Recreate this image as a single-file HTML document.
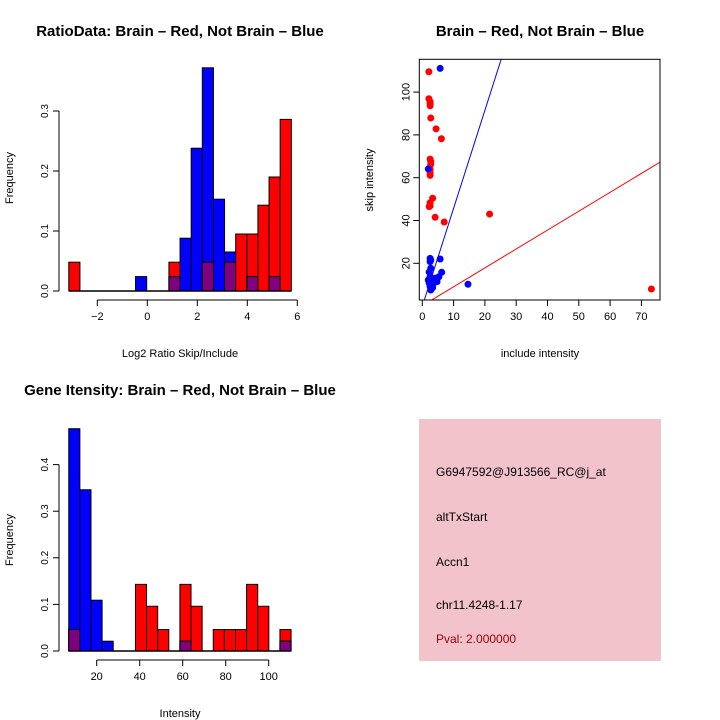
<!DOCTYPE html>
<html><head><meta charset="utf-8"><style>
body{margin:0;background:#fff;}
svg{display:block;font-family:"Liberation Sans",sans-serif;}
</style></head><body>
<svg id="c" width="720" height="720" viewBox="0 0 720 720" xmlns="http://www.w3.org/2000/svg">
<rect width="720" height="720" fill="#fff"/>
<text x="180" y="36" text-anchor="middle" font-size="15" font-weight="bold">RatioData: Brain – Red, Not Brain – Blue</text>
<text x="540" y="36" text-anchor="middle" font-size="15" font-weight="bold">Brain – Red, Not Brain – Blue</text>
<text x="180" y="395" text-anchor="middle" font-size="15" font-weight="bold">Gene Itensity: Brain – Red, Not Brain – Blue</text>
<text x="180" y="357" text-anchor="middle" font-size="11">Log2 Ratio Skip/Include</text>
<text transform="translate(13,178) rotate(-90)" text-anchor="middle" font-size="11">Frequency</text>
<text x="540" y="357" text-anchor="middle" font-size="11">include intensity</text>
<text transform="translate(373,180) rotate(-90)" text-anchor="middle" font-size="11">skip intensity</text>
<text x="180" y="717" text-anchor="middle" font-size="11">Intensity</text>
<text transform="translate(13,540) rotate(-90)" text-anchor="middle" font-size="11">Frequency</text>
<g id="h1"></g>
<g id="sc"></g>
<g id="h2"></g>
<rect x="419" y="419" width="242" height="242" fill="#f3c3cc"/>
<text x="436" y="476" font-size="12">G6947592@J913566_RC@j_at</text>
<text x="436" y="521" font-size="12">altTxStart</text>
<text x="436" y="566" font-size="12">Accn1</text>
<text x="436" y="609" font-size="12">chr11.4248-1.17</text>
<text x="436" y="643" font-size="12" fill="#990000">Pval: 2.000000</text>
</svg>
<script>
// Ratio histogram data
const ratioBinStart = -3.14, ratioBinWidth = 0.445;
const ratioRed  = [0.048,0,0,0,0,0,0,0,0,0.048,0,0,0.048,0,0.048,0.095,0.095,0.143,0.19,0.286];
const ratioBlue = [0,0,0,0,0,0,0.024,0,0,0.024,0.088,0.238,0.372,0.153,0.065,0,0.024,0,0.024,0];
const ratioXTicks = [-2,0,2,4,6];
const ratioYTicks = [0,0.1,0.2,0.3];
// Intensity histogram data
const intBinStart = 7, intBinWidth = 5.17;
const intRed  = [0.046,0,0,0,0,0,0.143,0.096,0.046,0,0.143,0.096,0,0.046,0.046,0.046,0.143,0.096,0,0.046];
const intBlue = [0.477,0.346,0.109,0.021,0,0,0,0,0,0,0.021,0,0,0,0,0,0,0,0,0.021];
const intXTicks = [20,40,60,80,100];
const intYTicks = [0,0.1,0.2,0.3,0.4];
// Scatter data
const redX = [2.1,2.1,2.5,2.5,2.5,2.7,4.4,6.1,2.5,2.7,2.7,2.5,2.5,2.5,3.3,2.5,2.5,4.1,7.0,21.5,73.2,2.2];
const redY = [109.5,96.9,95.5,94.8,93.6,87.9,82.8,78.2,68.7,67.5,66.3,63.9,62.3,61.1,50.4,48.3,46.8,41.5,39.3,43.0,8.0,46.5];
const blueX = [5.7,1.9,2.5,2.7,2.5,5.7,6.2,14.6,2.2,2.7,2.5,3.0,2.2,2.5,2.7,4.1,4.7,3.6,1.9,5.3,3.3];
const blueY = [111.1,64.1,22.3,21.5,20.8,22.0,15.8,10.2,15.9,17.7,13.7,12.2,10.7,9.1,7.5,13.0,11.4,10.7,12.2,13.7,8.6];
const blueLine = [4.58,-0.1]; // slope, intercept
const redLine = [0.883,0.2];
const scXTicks = [0,10,20,30,40,50,60,70];
const scYTicks = [20,40,60,80,100];

const NS="http://www.w3.org/2000/svg";
function mk(parent,tag,attrs){const e=document.createElementNS(NS,tag);for(const k in attrs)e.setAttribute(k,attrs[k]);parent.appendChild(e);return e;}

function hist(gid,binStart,binW,red,blue,xt,yt,sx,sy,y0,axisX,xAxisY,pfx){
  const g=document.getElementById(gid);
  const n=red.length;
  for(let i=0;i<n;i++){
    const x0=sx(binStart+i*binW),x1=sx(binStart+(i+1)*binW);
    if(red[i]>0){const r=mk(g,'rect',{x:x0,y:sy(red[i]),width:x1-x0,height:y0-sy(red[i]),fill:'#ff0000',stroke:'#000','stroke-width':1});
      
      }
    if(blue[i]>0){const r=mk(g,'rect',{x:x0,y:sy(blue[i]),width:x1-x0,height:y0-sy(blue[i]),fill:'#0000ff',stroke:'#000','stroke-width':1});
      
      }
    const m=Math.min(red[i],blue[i]);
    if(m>0){const r=mk(g,'rect',{x:x0,y:sy(m),width:x1-x0,height:y0-sy(m),fill:'#800080',stroke:'#000','stroke-width':1});
      
      }
  }
  mk(g,'line',{x1:sx(binStart),x2:sx(binStart+n*binW),y1:y0,y2:y0,stroke:'#000','stroke-width':1.5});
  mk(g,'line',{x1:axisX,x2:axisX,y1:sy(yt[0]),y2:sy(yt[yt.length-1]),stroke:'#000','stroke-width':1});
  yt.forEach(v=>{mk(g,'line',{x1:axisX-6,x2:axisX,y1:sy(v),y2:sy(v),stroke:'#000'});
    const t=mk(g,'text',{transform:`translate(${axisX-11},${sy(v)}) rotate(-90)`,'text-anchor':'middle','font-size':10});t.textContent=v.toFixed(1);
    
    });
  mk(g,'line',{x1:sx(xt[0]),x2:sx(xt[xt.length-1]),y1:xAxisY,y2:xAxisY,stroke:'#000'});
  xt.forEach(v=>{mk(g,'line',{x1:sx(v),x2:sx(v),y1:xAxisY,y2:xAxisY+6,stroke:'#000'});
    const t=mk(g,'text',{x:sx(v),y:xAxisY+20,'text-anchor':'middle','font-size':11});t.textContent=String(v).replace('-','−');
    
    });
}
hist('h1',ratioBinStart,ratioBinWidth,ratioRed,ratioBlue,ratioXTicks,ratioYTicks,
  v=>147.3+v*25, v=>291-v*600, 291, 59, 300,'ratio');
hist('h2',intBinStart,intBinWidth,intRed,intBlue,intXTicks,intYTicks,
  v=>96.7+(v-20)*2.15, v=>651-v*466, 651, 59, 660,'intensity');

// scatter
(function(){
  const g=document.getElementById('sc');
  const L=419.3,R=660,T=59.3,B=300;
  const sx=v=>422.3+v*3.13, sy=v=>263.3-(v-20)*2.14;
  const cp=mk(g,'clipPath',{id:'cp'});mk(cp,'rect',{x:L,y:T,width:R-L,height:B-T});
  const lg=mk(g,'g',{'clip-path':'url(#cp)'});
  [[blueLine,'#0000ff','blue-fit-line'],[redLine,'#ff0000','red-fit-line']].forEach(([ln,c,nm])=>{
    const xa=-5,xb=80;
    const l=mk(lg,'line',{x1:sx(xa),y1:sy(ln[0]*xa+ln[1]),x2:sx(xb),y2:sy(ln[0]*xb+ln[1]),stroke:c,'stroke-width':1});
    
    
  });
  redX.forEach((x,i)=>{const c=mk(g,'circle',{cx:sx(x),cy:sy(redY[i]),r:3.5,fill:'#ff0000'});
    
    });
  blueX.forEach((x,i)=>{const c=mk(g,'circle',{cx:sx(x),cy:sy(blueY[i]),r:3.5,fill:'#0000ff'});
    
    });
  mk(g,'rect',{x:L,y:T,width:R-L,height:B-T,fill:'none',stroke:'#000','stroke-width':1});
  scXTicks.forEach(v=>{mk(g,'line',{x1:sx(v),x2:sx(v),y1:B,y2:B+6,stroke:'#000'});
    const t=mk(g,'text',{x:sx(v),y:B+20,'text-anchor':'middle','font-size':11});t.textContent=v;
    
    });
  mk(g,'line',{x1:sx(0),x2:sx(70),y1:B,y2:B,stroke:'#000'});
  scYTicks.forEach(v=>{mk(g,'line',{x1:L-6,x2:L,y1:sy(v),y2:sy(v),stroke:'#000'});
    const t=mk(g,'text',{transform:`translate(${L-10},${sy(v)}) rotate(-90)`,'text-anchor':'middle','font-size':11});t.textContent=v;
    
    });
})();
</script>
</body></html>
